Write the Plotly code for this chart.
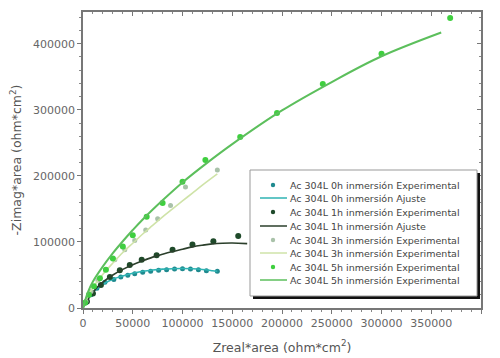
import plotly.graph_objects as go

# ---- data ----
x_0h_exp = [3000, 8000, 14000, 22000, 31000, 38000, 45000, 52000, 60000, 68000, 76000, 84000, 92000, 100000, 108000, 116000, 124000, 135000]
y_0h_exp = [8000, 20000, 30000, 39000, 43000, 47000, 49500, 52000, 54000, 55500, 57000, 58000, 59000, 59500, 59000, 58000, 56500, 55500]
x_0h_fit = [0, 2000, 5000, 10000, 20000, 30000, 40000, 50000, 60000, 70000, 80000, 90000, 100000, 110000, 120000, 130000, 135000]
y_0h_fit = [0, 6000, 14000, 24000, 36000, 43500, 48500, 52500, 55500, 57500, 58800, 59500, 59700, 59300, 58300, 56500, 55500]

x_1h_exp = [4000, 10000, 18000, 27000, 37000, 47000, 59000, 74000, 90000, 110000, 131000, 156000]
y_1h_exp = [10000, 22000, 35000, 47000, 57000, 65000, 73000, 80000, 88000, 96000, 101000, 109000]
x_1h_fit = [0, 5000, 10000, 20000, 30000, 40000, 50000, 60000, 70000, 80000, 90000, 100000, 110000, 120000, 130000, 140000, 150000, 165000]
y_1h_fit = [0, 13000, 24000, 39000, 50000, 58500, 65500, 71500, 77000, 81500, 85500, 89000, 92500, 95000, 97000, 98000, 98300, 97500]

x_3h_exp = [3000, 8000, 15000, 23000, 32000, 42000, 52000, 63000, 75000, 88000, 103000, 135000]
y_3h_exp = [10000, 25000, 42000, 58000, 73000, 88000, 102000, 118000, 135000, 155000, 183000, 209000]
x_3h_fit = [0, 5000, 10000, 20000, 30000, 40000, 50000, 60000, 70000, 80000, 90000, 100000, 110000, 120000, 135000]
y_3h_fit = [0, 18000, 31000, 51000, 68000, 84000, 98000, 112000, 125000, 138000, 150000, 162000, 174000, 186000, 203000]

x_5h_exp = [2000, 6000, 11000, 17000, 23000, 30000, 40000, 50000, 64000, 80000, 100000, 123000, 158000, 195000, 241000, 300000, 369000]
y_5h_exp = [8000, 20000, 33000, 45000, 58000, 75000, 93000, 110000, 138000, 159000, 191000, 224000, 259000, 295000, 339000, 385000, 439000]
x_5h_fit = [0, 5000, 10000, 20000, 30000, 40000, 50000, 60000, 80000, 100000, 125000, 150000, 200000, 250000, 300000, 360000]
y_5h_fit = [0, 24000, 40000, 63000, 83000, 101000, 118000, 134000, 163000, 190000, 220000, 248000, 299000, 342000, 381000, 417000]

names = [
    "Ac 304L 0h inmersión Experimental",
    "Ac 304L 0h inmersión Ajuste",
    "Ac 304L 1h inmersión Experimental",
    "Ac 304L 1h inmersión Ajuste",
    "Ac 304L 3h inmersión Experimental",
    "Ac 304L 3h inmersión Experimental",
    "Ac 304L 5h inmersión Experimental",
    "Ac 304L 5h inmersión Experimental",
]

series = [
    (x_0h_exp, y_0h_exp, "markers", "#1f8a8f"),
    (x_0h_fit, y_0h_fit, "lines", "#2fb3b3"),
    (x_1h_exp, y_1h_exp, "markers", "#1f4a2a"),
    (x_1h_fit, y_1h_fit, "lines", "#2b3f2b"),
    (x_3h_exp, y_3h_exp, "markers", "#a9c2a9"),
    (x_3h_fit, y_3h_fit, "lines", "#cfe3a8"),
    (x_5h_exp, y_5h_exp, "markers", "#3fcf3f"),
    (x_5h_fit, y_5h_fit, "lines", "#5cbf5c"),
]
msizes = {0: 5, 2: 6, 4: 5, 6: 6}
lwidths = {1: 1.6, 3: 1.6, 5: 1.6, 7: 2}

FONT = "DejaVu Sans, Verdana, sans-serif"

fig = go.Figure()
for i, (xs, ys, mode, col) in enumerate(series):
    if mode == "markers":
        fig.add_trace(go.Scatter(x=xs, y=ys, mode="markers", name=names[i], showlegend=False,
                                 marker=dict(color=col, size=msizes[i])))
    else:
        fig.add_trace(go.Scatter(x=xs, y=ys, mode="lines", name=names[i], showlegend=False,
                                 line=dict(color=col, width=lwidths[i], shape="spline")))

# helper trace for the mirrored (inside-tick) top/right axes
fig.add_trace(go.Scatter(x=x_5h_exp[:1], y=y_5h_exp[:1], xaxis="x2", yaxis="y2", mode="markers",
                         marker=dict(opacity=0), showlegend=False, hoverinfo="skip"))

X_RANGE = [0, 400000]
Y_RANGE = [0, 448000]

axis_common = dict(
    showgrid=False, zeroline=False, showline=True, linecolor="#777", linewidth=1.5,
    ticks="outside", ticklen=4, tickcolor="#777", tickformat="d", automargin=False,
    tickfont=dict(size=11, color="#666", family=FONT),
    minor=dict(ticks="outside", ticklen=2, tickcolor="#888"),
)

fig.update_layout(
    xaxis=dict(range=X_RANGE, dtick=50000,
               title=dict(text="Zreal*area (ohm*cm<sup>2</sup>)", font=dict(size=12.5, color="#555", family=FONT), standoff=14),
               **axis_common),
    yaxis=dict(range=Y_RANGE, dtick=100000,
               title=dict(text="-Zimag*area (ohm*cm<sup>2</sup>)", font=dict(size=12.5, color="#555", family=FONT), standoff=12),
               **axis_common),
    xaxis2=dict(range=X_RANGE, dtick=50000, overlaying="x", side="top", showticklabels=False,
                showgrid=False, zeroline=False, showline=True, linecolor="#777", linewidth=1.5,
                ticks="inside", ticklen=4, tickcolor="#777",
                minor=dict(ticks="inside", ticklen=2, tickcolor="#888")),
    yaxis2=dict(range=Y_RANGE, dtick=100000, overlaying="y", side="right", showticklabels=False,
                showgrid=False, zeroline=False, showline=True, linecolor="#777", linewidth=1.5,
                ticks="inside", ticklen=4, tickcolor="#777",
                minor=dict(ticks="inside", ticklen=2, tickcolor="#888")),
)

# ---- layout in window pixels (page body has an 8px margin) ----
OFF = 8
W, H = 500 - OFF, 358 - OFF
L, R, T, B = 83, 481, 12, 308   # plot area in window pixels

def px(xp):
    return (xp - L) / (R - L)
def py(yp):
    return (B - yp) / (B - T)

# custom compact legend
fig.add_shape(type="rect", xref="paper", yref="paper", x0=px(253), x1=px(480), y0=py(299), y1=py(173),
              fillcolor="#111", line=dict(width=0), layer="above")
fig.add_shape(type="rect", xref="paper", yref="paper", x0=px(250), x1=px(477), y0=py(296), y1=py(170),
              fillcolor="white", line=dict(color="#999", width=1), layer="above")

row_y = [185, 198, 212, 226, 240, 253, 267, 280]
for i, (xs, ys, mode, col) in enumerate(series):
    yy = row_y[i]
    if mode == "markers":
        r = 2.2
        fig.add_shape(type="circle", xref="paper", yref="paper",
                      x0=px(273 - r), x1=px(273 + r), y0=py(yy + r), y1=py(yy - r),
                      fillcolor=col, line=dict(width=0), layer="above")
    else:
        fig.add_shape(type="line", xref="paper", yref="paper",
                      x0=px(260), x1=px(287), y0=py(yy), y1=py(yy),
                      line=dict(color=col, width=1.5), layer="above")
    fig.add_annotation(text=names[i], xref="paper", yref="paper", x=px(288), y=py(yy),
                       xanchor="left", yanchor="middle", showarrow=False,
                       font=dict(size=9.5, color="#444", family=FONT))

fig.update_layout(
    width=W, height=H,
    margin=dict(l=L - OFF, r=500 - R, t=T - OFF, b=358 - B),
    paper_bgcolor="white", plot_bgcolor="white",
    font=dict(family=FONT, color="#555"),
    showlegend=False,
)

fig.write_html("out.html")
